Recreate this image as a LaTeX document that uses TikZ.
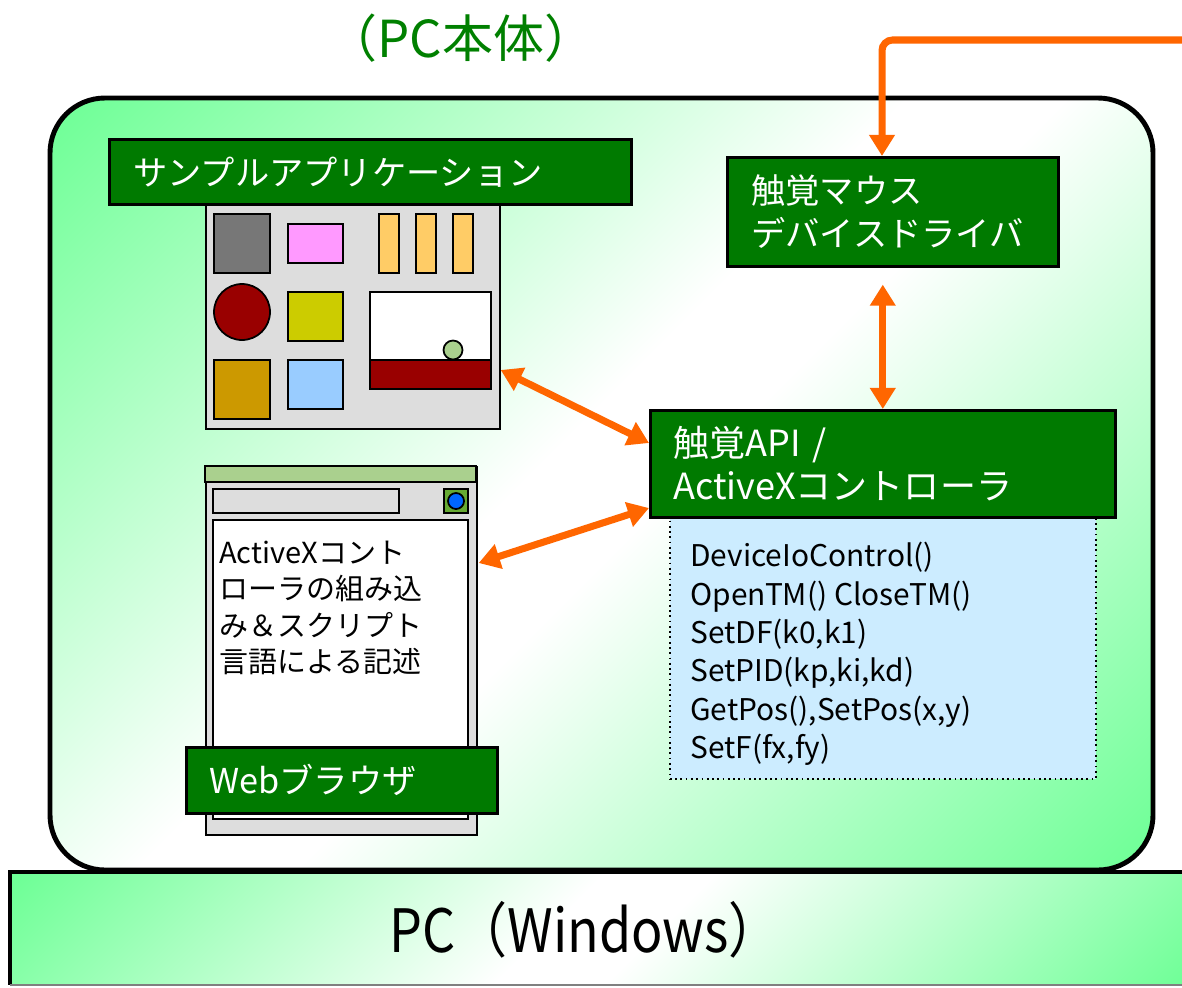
\documentclass[tikz,border=0pt]{standalone}
\usepackage{fontspec}
\usepackage{graphicx}
\setmainfont{Noto Sans CJK JP}
\usetikzlibrary{arrows.meta,calc}
\definecolor{dkgreen}{RGB}{0,122,0}
\definecolor{ttlgreen}{RGB}{0,128,0}
\definecolor{ltgreen}{RGB}{110,255,150}
\definecolor{orng}{RGB}{255,102,0}
\definecolor{panelgray}{RGB}{221,221,221}
\definecolor{methblue}{RGB}{204,236,255}
\definecolor{bargreen}{RGB}{170,208,142}
\definecolor{icongreen}{RGB}{102,170,51}
\definecolor{iconblue}{RGB}{0,102,255}
\pgfdeclareverticalshading{bodysh}{100bp}{color(0bp)=(ltgreen); color(15bp)=(ltgreen); color(47bp)=(white); color(53bp)=(white); color(85bp)=(ltgreen); color(100bp)=(ltgreen)}
\tikzset{
  gbox/.style={draw=black, line width=1.5pt, fill=dkgreen, text=white, align=left,
    anchor=north west, inner ysep=0pt, font=\fontsize{19.5}{24.4}\selectfont},
  conn/.style={draw=orng, line width=4pt, -{Triangle[length=12pt,width=14pt]}},
  dconn/.style={draw=orng, line width=4pt,
    {Triangle[length=12pt,width=14pt]}-{Triangle[length=12pt,width=14pt]}},
  shp/.style={draw=black, line width=1pt},
  bodyshade/.style={shading=bodysh, shading angle=45},
}
\begin{document}
\begin{tikzpicture}[x=0.02cm,y=-0.02cm]
\useasboundingbox (0,0) rectangle (1182,987);
% body
\path[draw=black, line width=2.8pt, rounded corners=1.1cm, bodyshade]
  (50,98) rectangle (1153,870);
% PC bar
\path[bodyshade] (10,872) rectangle (1200,985);
\draw[line width=2.8pt] (1200,872) -- (10,872) -- (10,985);
\draw[gray, line width=1pt] (10,985) -- (1200,985);
\node (pc) at (585,930) {\fontsize{34}{34}\selectfont\scalebox{0.87}[1]{PC（Windows）}};
% title
\node[text=ttlgreen] (title) at (461,38) {\fontsize{29}{29}\selectfont （PC本体）};

% sample application panel
\node[shp, fill=panelgray, anchor=north west, minimum width=5.88cm, minimum height=4.52cm, inner sep=0] (panel) at (205,202) {};
\draw[shp, fill={rgb,255:red,119;green,119;blue,119}] (214,214) rectangle (270,273);
\draw[shp, fill={rgb,255:red,255;green,153;blue,255}] (288,224) rectangle (343,263);
\draw[shp, fill={rgb,255:red,255;green,204;blue,102}] (379,214) rectangle (399,273);
\draw[shp, fill={rgb,255:red,255;green,204;blue,102}] (416,214) rectangle (436,273);
\draw[shp, fill={rgb,255:red,255;green,204;blue,102}] (453,214) rectangle (473,273);
\draw[shp, fill={rgb,255:red,153;green,0;blue,0}] (242,312) circle[radius=0.56cm];
\draw[shp, fill={rgb,255:red,204;green,204;blue,0}] (288,292) rectangle (343,341);
\draw[shp, fill=white] (370,292) rectangle (491,360);
\draw[shp, fill={rgb,255:red,153;green,0;blue,0}] (370,360) rectangle (491,389);
\draw[shp, fill=bargreen] (453,350) circle[radius=0.19cm];
\draw[shp, fill={rgb,255:red,204;green,153;blue,0}] (214,360) rectangle (270,419);
\draw[shp, fill={rgb,255:red,153;green,204;blue,255}] (288,360) rectangle (343,409);
\node[gbox, minimum height=1.3cm, text width=9.48cm, inner xsep=0.48cm] (app) at (108,138) {サンプルアプリケーション};

% browser
\node[shp, fill=panelgray, anchor=north west, minimum width=5.42cm, minimum height=7.36cm, inner sep=0] (browser) at (205,466) {};
\draw[shp, fill=bargreen] (205,466) rectangle (476,482);
\draw[shp, fill=panelgray] (213,489) rectangle (399,513);
\draw[shp, fill=icongreen] (444,489) rectangle (468,513);
\draw[shp, fill=iconblue] (456,501) circle[radius=0.16cm];
\draw[shp, fill=white] (213,520) rectangle (468,819);
\node[anchor=west, align=left, inner sep=0, font=\fontsize{16.5}{20.7}\selectfont] (btext) at (219,608)
  {ActiveXコント\\ローラの組み込\\み＆スクリプト\\言語による記述};
\node[gbox, minimum height=1.32cm, text width=5.3cm, inner xsep=0.46cm] (web) at (185,746) {Webブラウザ};

% driver
\node[gbox, minimum height=2.18cm, text width=5.66cm, inner xsep=0.48cm] (drv) at (726,156) {触覚マウス\\デバイスドライバ};
% API
\node[draw=black, dotted, line width=1pt, fill=methblue, anchor=north west, minimum width=8.52cm, minimum height=5.24cm, inner sep=0] (meth) at (669,516) {};
\node[anchor=west, align=left, inner sep=0, font=\fontsize{17}{21.9}\selectfont] (methtext) at (690,654)
  {DeviceIoControl()\\OpenTM() CloseTM()\\SetDF(k0,k1)\\SetPID(kp,ki,kd)\\GetPos(),SetPos(x,y)\\SetF(fx,fy)};
\node[gbox, minimum height=2.14cm, text width=8.38cm, inner xsep=0.46cm, font=\fontsize{20.5}{24.4}\selectfont] (api) at (649,409) {触覚API /\\ActiveXコントローラ};

% connectors
\coordinate (inlet) at (1200,40);
\coordinate (drvin) at ($(drv.north west)+(156,0)$);
\draw[conn, rounded corners=6pt] (inlet) -- (drvin |- inlet) -- (drvin);
\draw[dconn] ($(drv.south -| api.north)+(0,17)$) -- (api.north);
\draw[dconn] ($(panel.north east)+(0,168)$) -- ($(api.north west)+(0,34)$);
\draw[dconn] ($(browser.north east)+(1,97)$) -- ($(api.north west)+(0,99)$);
\end{tikzpicture}
\end{document}
